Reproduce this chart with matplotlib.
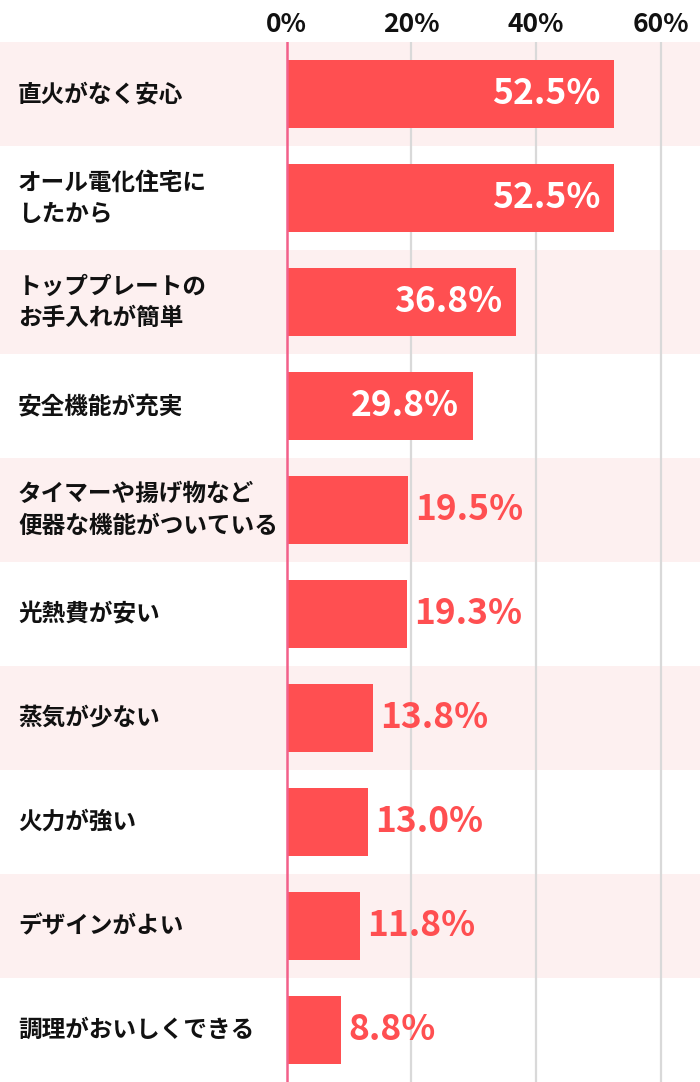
import matplotlib
matplotlib.use("Agg")
import matplotlib.pyplot as plt

plt.rcParams['font.family'] = ['Noto Sans CJK JP', 'DejaVu Sans']

categories = [
    "直火がなく安心",
    "オール電化住宅に\nしたから",
    "トッププレートの\nお手入れが簡単",
    "安全機能が充実",
    "タイマーや揚げ物など\n便器な機能がついている",
    "光熱費が安い",
    "蒸気が少ない",
    "火力が強い",
    "デザインがよい",
    "調理がおいしくできる",
]
values = [52.5, 52.5, 36.8, 29.8, 19.5, 19.3, 13.8, 13.0, 11.8, 8.8]
ticks = [0, 20, 40, 60]
tick_labels = ["0%", "20%", "40%", "60%"]

W, H = 700, 1082
fig = plt.figure(figsize=(W / 100, H / 100), dpi=100)
top_px = 42
ax = fig.add_axes([0, 0, 1, 1 - top_px / H])

px_per_unit = (661 - 286.5) / 60.0
xmin = -286.5 / px_per_unit
xmax = (W - 286.5) / px_per_unit
ax.set_xlim(xmin, xmax)
n = len(categories)
ax.set_ylim(n - 0.5, -0.5)

bar_color = "#ff4f51"
band_color = "#fdf0f0"

for i in range(n):
    if i % 2 == 0:
        ax.axhspan(i - 0.5, i + 0.5, color=band_color, zorder=0, lw=0)

for t in ticks[1:]:
    ax.axvline(t, color="#d9d9d9", lw=1.6, zorder=1)

ax.barh(range(n), values, height=0.654, color=bar_color, zorder=2)
ax.axvline(0, color="#f2608a", lw=1.8, zorder=3)

for i, (c, v) in enumerate(zip(categories, values)):
    ax.text(xmin + 18 / px_per_unit, i, c, ha="left", va="center",
            fontsize=17, fontweight="bold", color="#111111",
            linespacing=1.38, zorder=4)
    if v >= 25:
        ax.text(v - 14 / px_per_unit, i, f"{v:.1f}%", ha="right", va="center",
                fontsize=25.5, fontweight="bold", color="white", zorder=4)
    else:
        ax.text(v + 7 / px_per_unit, i, f"{v:.1f}%", ha="left", va="center",
                fontsize=25.5, fontweight="bold", color=bar_color, zorder=4)

ax.xaxis.tick_top()
ax.set_xticks(ticks)
ax.set_xticklabels(tick_labels, fontsize=19, fontweight="bold", color="#111111")
ax.tick_params(axis="x", length=0, pad=3)
ax.set_yticks([])
for s in ax.spines.values():
    s.set_visible(False)

fig.savefig("out.png", dpi=100)
